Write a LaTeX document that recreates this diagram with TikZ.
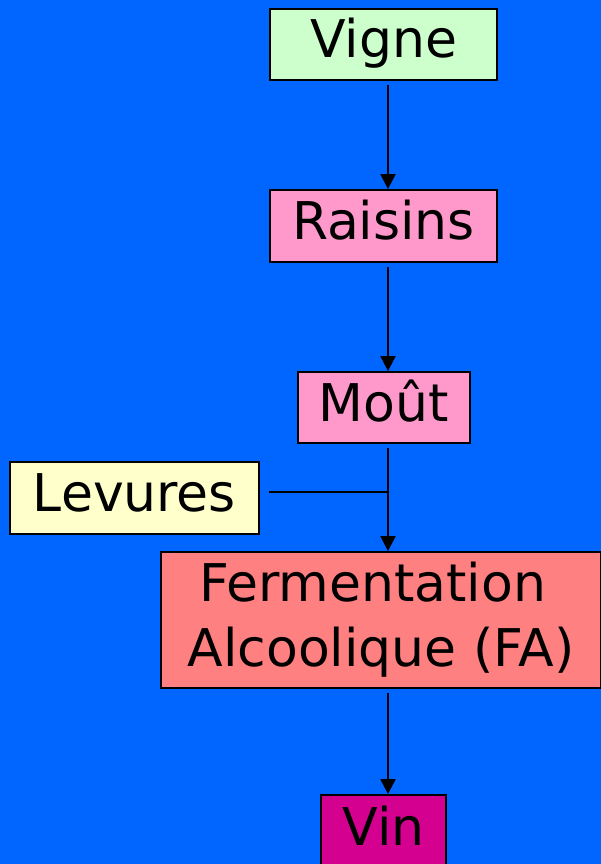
\documentclass[tikz,border=0pt]{standalone}
\usepackage{fontspec}
\setmainfont{DejaVu Sans}
\usetikzlibrary{arrows.meta}
\definecolor{bgblue}{HTML}{0066FF}
\definecolor{vgreen}{HTML}{CCFFCC}
\definecolor{vpink}{HTML}{FF99CC}
\definecolor{vyellow}{HTML}{FFFFCC}
\definecolor{vsalmon}{HTML}{FF8080}
\definecolor{vmagenta}{HTML}{D4008F}
\begin{document}
\begin{tikzpicture}[x=1pt,y=-1pt,
  box/.style={draw=black,line width=1.8pt,inner sep=0pt,font=\fontsize{52}{65}\selectfont,
    text height=39pt,text depth=12pt},
  arr/.style={line width=2pt,-{Triangle[width=15pt,length=15pt]}},
  link/.style={line width=2pt}]
\fill[bgblue] (0,0) rectangle (601,864);
\useasboundingbox (0,0) rectangle (601,864);
\node[box,fill=vgreen,minimum width=227pt,minimum height=71pt] (vigne) at (383.5,44.5) {Vigne};
\node[box,fill=vpink,minimum width=227pt,minimum height=72pt] (raisins) at (383.5,226) {Raisins};
\node[box,fill=vpink,minimum width=172pt,minimum height=71pt] (mout) at (384,407.5) {Moût};
\node[box,fill=vyellow,minimum width=249pt,minimum height=72pt] (levures) at (134.5,498) {Levures};
\node[draw=black,line width=1.8pt,inner sep=0pt,font=\fontsize{52}{65}\selectfont,align=center,
  fill=vsalmon,minimum width=440pt,minimum height=136pt] (fa) at (381,620) {Fermentation\hspace*{0.32em}\\Alcoolique (FA)};
\node[box,fill=vmagenta,minimum width=125pt,minimum height=73pt] (vin) at (383.5,831.5) {Vin};
\draw[arr] ([xshift=4.5pt,yshift=-4pt]vigne.south) -- ([xshift=4.5pt]raisins.north);
\draw[arr] ([xshift=4.5pt,yshift=-4pt]raisins.south) -- ([xshift=4.5pt]raisins.south |- mout.north);
\draw[arr] ([xshift=4pt,yshift=-4pt]mout.south) coordinate (ms) -- (ms |- fa.north);
\draw[link] ([xshift=9pt,yshift=6pt]levures.east) -- ([yshift=6pt]levures.east -| ms);
\draw[arr] ([xshift=7pt,yshift=-4pt]fa.south) coordinate (fs) -- (fs |- vin.north);
\end{tikzpicture}
\end{document}
